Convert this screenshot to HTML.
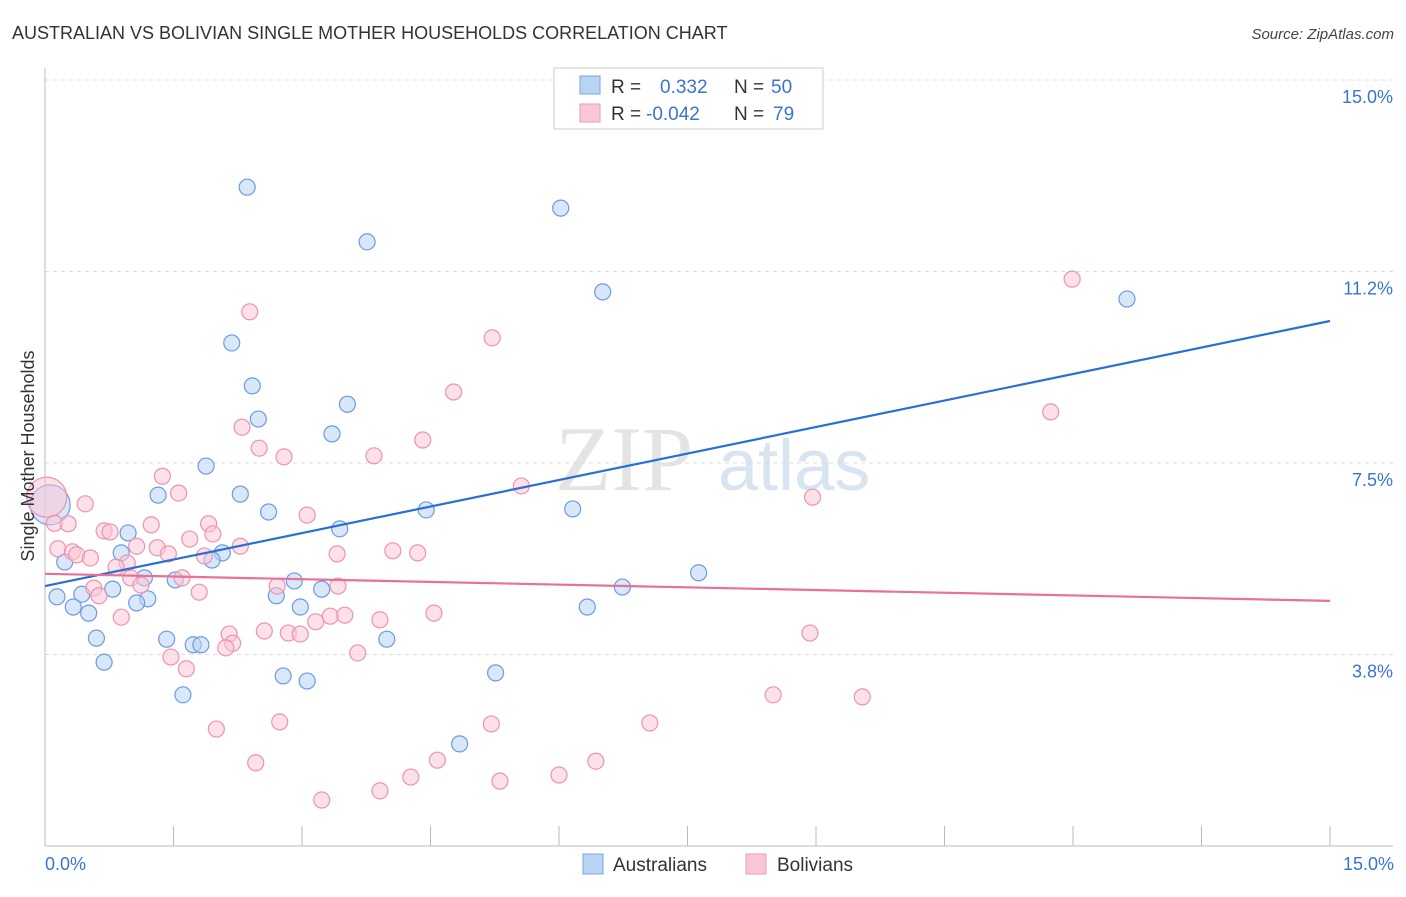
<!DOCTYPE html>
<html><head><meta charset="utf-8"><style>
body{margin:0;background:#fff;font-family:"Liberation Sans",sans-serif}
</style></head><body>
<svg id="chart" width="1406" height="892" xmlns="http://www.w3.org/2000/svg" font-family="Liberation Sans, sans-serif">
<text x="12" y="39" font-size="18" fill="#333">AUSTRALIAN VS BOLIVIAN SINGLE MOTHER HOUSEHOLDS CORRELATION CHART</text>
<text x="1394" y="39" font-size="15" fill="#444" text-anchor="end" font-style="italic">Source: ZipAtlas.com</text>
<g><text x="555" y="490" font-size="92" fill="#e4e4e4" font-family="Liberation Serif, serif">ZIP</text><text x="718" y="490" font-size="72" fill="#d8e4f2">atlas</text></g>
<g id="grid"></g><g id="axes"></g><g id="lines"></g><g id="pts"></g>
<text transform="translate(34,456) rotate(-90)" font-size="18" fill="#333" text-anchor="middle">Single Mother Households</text>
<text x="45" y="870" font-size="18" fill="#3a74d0">0.0%</text>
<text x="1394" y="870" font-size="18" fill="#3a74d0" text-anchor="end">15.0%</text>
<g>
<rect x="554" y="68" width="269" height="61" fill="#fff" stroke="#ccc"/>
<rect x="580" y="76" width="20" height="18" fill="#b9d3f5" stroke="#7aa6e0"/>
<rect x="580" y="104" width="20" height="18" fill="#fbc6d6" stroke="#ee9ab5"/>
<text x="611" y="93" font-size="19" fill="#333">R =</text><text x="660" y="93" font-size="19" fill="#3a74d0">0.332</text>
<text x="734" y="93" font-size="19" fill="#333">N =</text><text x="771" y="93" font-size="19" fill="#3a74d0">50</text>
<text x="611" y="120" font-size="19" fill="#333">R =</text><text x="646" y="120" font-size="19" fill="#3a74d0">-0.042</text>
<text x="734" y="120" font-size="19" fill="#333">N =</text><text x="773" y="120" font-size="19" fill="#3a74d0">79</text>
</g>
<g>
<rect x="583" y="854" width="20" height="20" fill="#b9d3f5" stroke="#7aa6e0"/>
<text x="613" y="871" font-size="19" fill="#333">Australians</text>
<rect x="746" y="854" width="20" height="20" fill="#fbc6d6" stroke="#ee9ab5"/>
<text x="777" y="871" font-size="19" fill="#333">Bolivians</text>
</g>
</svg>
<script>
const yTicks=[3.75,7.5,11.25,15];
const yTickLabels=["3.8%","7.5%","11.2%","15.0%"];
const xTicks=[0,1.5,3,4.5,6,7.5,9,10.5,12,13.5,15];
const ausX=[2.36,6.02,3.76,6.51,12.63,2.18,2.42,3.53,2.49,3.35,1.88,1.32,2.28,2.61,4.45,6.16,3.44,0.97,0.89,2.07,1.95,0.23,1.16,1.52,2.91,0.79,0.43,0.14,2.70,3.23,1.20,1.07,0.33,0.51,2.98,6.33,6.74,7.63,0.60,1.42,1.73,1.82,3.99,0.69,2.78,3.06,5.26,1.61,4.84,0.06];
const ausY=[12.90,12.49,11.83,10.85,10.71,9.85,9.01,8.65,8.36,8.07,7.44,6.87,6.89,6.54,6.58,6.60,6.21,6.13,5.74,5.74,5.60,5.56,5.25,5.21,5.19,5.03,4.93,4.88,4.90,5.03,4.84,4.76,4.68,4.56,4.68,4.68,5.07,5.35,4.07,4.05,3.94,3.94,4.05,3.60,3.33,3.23,3.39,2.96,2.00,6.68];
const bolX=[11.99,2.39,5.22,4.77,11.74,2.30,4.41,2.50,2.79,3.84,1.37,5.56,8.96,1.56,0.47,3.06,0.11,0.27,1.24,0.69,0.76,1.91,1.96,1.69,1.07,2.28,0.15,0.32,1.31,0.37,1.44,0.53,1.86,3.41,4.06,4.35,0.96,0.83,1.60,1.00,1.12,2.71,3.42,0.57,0.63,1.80,0.89,3.16,3.33,3.50,3.91,4.54,2.56,2.84,2.98,2.15,2.19,2.11,8.93,1.47,3.65,1.65,8.50,9.54,2.74,5.21,7.06,2.00,4.58,6.43,2.46,4.27,6.00,5.31,3.91,3.23,0.02];
const bolY=[11.10,10.46,9.95,8.89,8.50,8.20,7.95,7.79,7.62,7.64,7.24,7.05,6.83,6.91,6.70,6.48,6.32,6.31,6.29,6.17,6.15,6.31,6.11,6.01,5.87,5.87,5.82,5.76,5.84,5.70,5.72,5.64,5.68,5.72,5.78,5.74,5.54,5.46,5.25,5.25,5.11,5.09,5.09,5.05,4.90,4.97,4.48,4.39,4.50,4.52,4.43,4.56,4.21,4.17,4.15,4.15,3.97,3.88,4.17,3.70,3.78,3.47,2.96,2.92,2.43,2.39,2.41,2.29,1.68,1.66,1.63,1.35,1.39,1.27,1.08,0.90,6.83];
const ausTrend=[5.09,10.28];
const bolTrend=[5.33,4.80];
const NS="http://www.w3.org/2000/svg";
const xs=v=>45+v*(1285/15), ys=v=>846-v*51.07;
function mk(t,a,p){const e=document.createElementNS(NS,t);for(const k in a)e.setAttribute(k,a[k]);p.appendChild(e);return e;}
const grid=document.getElementById('grid'),axes=document.getElementById('axes');
yTicks.forEach((t,i)=>{const l=mk('line',{x1:45,x2:1393,y1:ys(t),y2:ys(t),stroke:'#ddd','stroke-dasharray':'4,4'},grid);


const tx=mk('text',{x:1393,y:ys(t)+23,'font-size':18,fill:'#3a74d0','text-anchor':'end'},grid);tx.textContent=yTickLabels[i];

});
const xa=mk('line',{x1:45,x2:1393,y1:846,y2:846,stroke:'#bbb'},axes);


const ya=mk('line',{x1:45,x2:45,y1:68,y2:846,stroke:'#bbb'},axes);


xTicks.forEach(t=>{const l=mk('line',{x1:xs(t),x2:xs(t),y1:826,y2:846,stroke:'#bbb'},axes);

});
const pts=document.getElementById('pts');
function dots(X,Y,fill,stroke,name){X.forEach((x,i)=>{const big=(i===X.length-1);const c=mk('circle',{cx:xs(x),cy:ys(Y[i]),r:big?20:8,fill:fill,'fill-opacity':0.55,stroke:stroke,'stroke-width':1.2},pts);

});}
dots(ausX,ausY,'#b9d3f5','#6b9be0','australian-point');
dots(bolX,bolY,'#fbc6d6','#ec93b0','bolivian-point');
const lines=document.getElementById('lines');
const l1=mk('line',{x1:xs(0),x2:xs(15),y1:ys(ausTrend[0]),y2:ys(ausTrend[1]),stroke:'#2a6fd6','stroke-width':2.2},pts);


const l2=mk('line',{x1:xs(0),x2:xs(15),y1:ys(bolTrend[0]),y2:ys(bolTrend[1]),stroke:'#e8709a','stroke-width':2.2},pts);


</script>
</body></html>
